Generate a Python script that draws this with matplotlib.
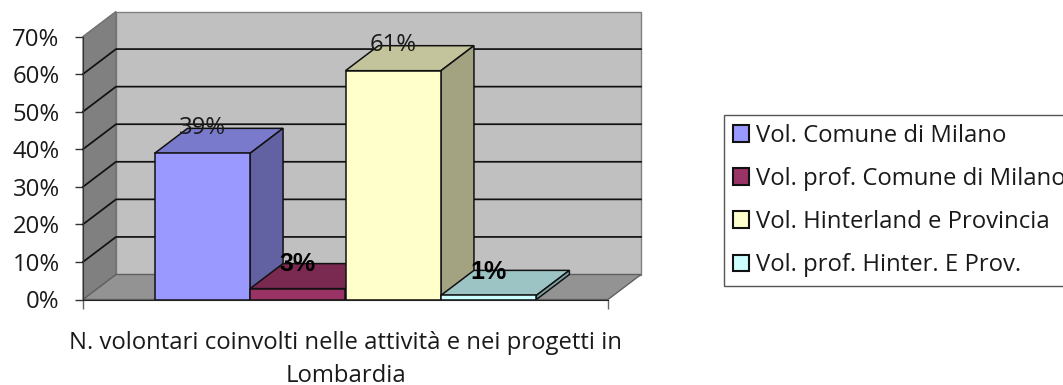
import matplotlib
matplotlib.use('Agg')
import matplotlib.pyplot as plt

series_names = ['Vol. Comune di Milano', 'Vol. prof. Comune di Milano',
                'Vol. Hinterland e Provincia', 'Vol. prof. Hinter. E Prov.']
series_values = [39, 3, 61, 1]
value_labels = ['39%', '3%', '61%', '1%']
heights = [38.9, 2.9, 60.9, 1.1]
y_ticks = [0, 10, 20, 30, 40, 50, 60, 70]
category_label = 'N. volontari coinvolti nelle attività e nei progetti in\nLombardia'

front_colors = ['#9999ff', '#993366', '#ffffcc', '#ccffff']
top_colors = ['#7a7acc', '#7a2950', '#c4c49c', '#9cc4c4']
side_colors = ['#6262a3', '#611f40', '#a3a382', '#7fa3a3']
label_weights = ['normal', 'bold', 'normal', 'bold']
label_families = ['Open Sans', 'Liberation Sans', 'Open Sans', 'Liberation Sans']
label_colors = ['#1a1a1a', '#000000', '#1a1a1a', '#000000']
label_sizes = [17.2, 18, 17.2, 18]
label_offsets = [18.5, 17.5, 18.5, 16.5]

W, H = 1063, 385
plt.rcParams['font.family'] = ['Open Sans', 'DejaVu Sans']
fig = plt.figure(figsize=(W / 100, H / 100), dpi=100)

# axes = front plane of the fake 3d box
left, right, bottom, top = 83, 608, 299.5, 36.5
ax = fig.add_axes([left / W, 1 - bottom / H, (right - left) / W, (bottom - top) / H])
x0, x1 = -0.75, 4.75
ax.set_xlim(x0, x1)
ax.set_ylim(0, 70)
ax.patch.set_visible(False)

# depth of the box in data units (33px across, 25px up)
dx = 33 / ((right - left) / (x1 - x0))
dy = 25 / ((bottom - top) / 70)

edge = '#808080'
ax.fill([x0 + dx, x1 + dx, x1 + dx, x0 + dx], [dy, dy, 70 + dy, 70 + dy],
        facecolor='#c0c0c0', edgecolor=edge, lw=1, clip_on=False, zorder=1)
ax.fill([x0, x0 + dx, x0 + dx, x0], [0, dy, 70 + dy, 70],
        facecolor='#808080', edgecolor='#707070', lw=1, clip_on=False, zorder=1)
ax.fill([x0, x0 + dx, x1 + dx, x1], [0, dy, dy, 0],
        facecolor='#939393', edgecolor='#606060', lw=1, clip_on=False, zorder=1)

# gridlines run along the side wall and the back wall
for t in y_ticks[1:-1]:
    ax.plot([x0, x0 + dx, x1 + dx], [t, t + dy, t + dy], color='#111111', lw=1.25,
            clip_on=False, zorder=2)

for i in range(4):
    h = heights[i]
    ax.fill([i, i + dx, i + 1 + dx, i + 1], [h, h + dy, h + dy, h],
            facecolor=top_colors[i], edgecolor='#111111', lw=1.1, clip_on=False, zorder=3 + i)
    ax.fill([i + 1, i + 1 + dx, i + 1 + dx, i + 1], [0, dy, h + dy, h],
            facecolor=side_colors[i], edgecolor='#111111', lw=1.1, clip_on=False, zorder=3 + i)
    ax.bar(i, h, width=1, align='edge', color=front_colors[i], edgecolor='#111111', lw=1.1,
           label=series_names[i], clip_on=False, zorder=3 + i)

for i in range(4):
    ax.annotate(value_labels[i], (i + 0.5, heights[i]), xytext=(0, label_offsets[i]), textcoords='offset points',
                ha='center', va='center', fontsize=label_sizes[i], fontweight=label_weights[i],
                family=label_families[i], color=label_colors[i], zorder=10, annotation_clip=False)

ax.set_yticks(y_ticks)
ax.set_yticklabels([str(t) + '%' for t in y_ticks], fontsize=17.2, color='#1a1a1a')
ax.tick_params(axis='y', length=5.8, width=1, color='#333333', pad=11)
ax.set_xticks([x0, x1])
ax.set_xticklabels(['', ''])
ax.tick_params(axis='x', length=6.2, width=1, color='#666666')
ax.set_xlabel(category_label, fontsize=17.2, color='#1a1a1a', linespacing=1.48, labelpad=13)

for s in ['top', 'right']:
    ax.spines[s].set_visible(False)
ax.spines['left'].set_color('#333333')
ax.spines['bottom'].set_color('#222222')
ax.spines['bottom'].set_zorder(12)

leg = ax.legend(loc='upper left', bbox_to_anchor=(724 / W, 1 - 115 / H), bbox_transform=fig.transFigure,
                fontsize=17.2, frameon=True, fancybox=False, edgecolor='#555555', framealpha=1,
                borderaxespad=0, borderpad=0.37, labelspacing=0.8, handlelength=0.68,
                handleheight=0.68, handletextpad=0.3, labelcolor='#1a1a1a')
leg.get_frame().set_linewidth(1)
for p in leg.get_patches():
    p.set_linewidth(1.5)

fig.savefig('out.png', dpi=100)
